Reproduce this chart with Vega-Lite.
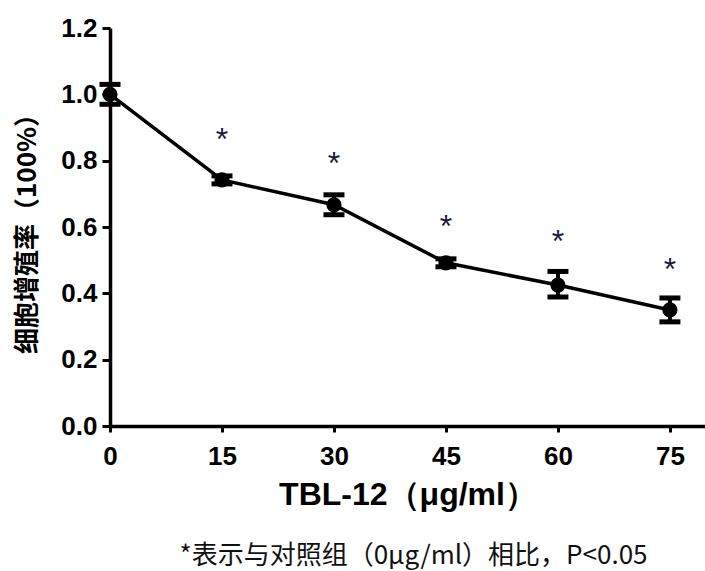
{
  "$schema": "https://vega.github.io/schema/vega-lite/v6.json",
  "width": 595,
  "height": 398,
  "autosize": {"type": "none"},
  "padding": {"left": 110, "top": 28, "right": 0, "bottom": 145},
  "background": "white",
  "config": {"view": {"stroke": null}},
  "title": {
    "text": "*表示与对照组（0μg/ml）相比，P<0.05",
    "orient": "bottom",
    "anchor": "middle",
    "font": "Noto Sans CJK SC",
    "fontSize": 26,
    "fontWeight": "normal",
    "color": "#111111",
    "offset": 33,
    "dx": 6
  },
  "data": {
    "values": [
      {"dose": 0, "mean": 1.0, "lo": 0.97, "hi": 1.03, "star": ""},
      {"dose": 15, "mean": 0.742, "lo": 0.73, "hi": 0.754, "star": "*", "sy": 0.87},
      {"dose": 30, "mean": 0.667, "lo": 0.637, "hi": 0.697, "star": "*", "sy": 0.8},
      {"dose": 45, "mean": 0.492, "lo": 0.48, "hi": 0.504, "star": "*", "sy": 0.61},
      {"dose": 60, "mean": 0.425, "lo": 0.389, "hi": 0.466, "star": "*", "sy": 0.565},
      {"dose": 75, "mean": 0.35, "lo": 0.314, "hi": 0.386, "star": "*", "sy": 0.48}
    ]
  },
  "encoding": {
    "x": {
      "field": "dose",
      "type": "quantitative",
      "scale": {"domain": [0, 79.7], "nice": false},
      "axis": {
        "values": [0, 15, 30, 45, 60, 75],
        "labelFlush": false,
        "title": "TBL-12（μg/ml）",
        "titleFont": "Liberation Sans",
        "titleFontSize": 32,
        "titleFontWeight": "bold",
        "titleColor": "#000000",
        "titlePadding": 10,
        "labelFont": "Liberation Sans",
        "labelFontSize": 26,
        "labelFontWeight": "bold",
        "labelColor": "#000000",
        "labelPadding": 11,
        "domainColor": "#000000",
        "domainWidth": 3.5,
        "tickColor": "#000000",
        "tickWidth": 3,
        "tickSize": 6,
        "grid": false
      }
    }
  },
  "layer": [
    {
      "mark": {"type": "rule", "strokeWidth": 4, "color": "#000000"},
      "encoding": {
        "y": {"field": "lo", "type": "quantitative"},
        "y2": {"field": "hi"}
      }
    },
    {
      "mark": {"type": "tick", "thickness": 5, "size": 21, "color": "#000000", "opacity": 1, "orient": "horizontal"},
      "encoding": {"y": {"field": "lo", "type": "quantitative"}}
    },
    {
      "mark": {"type": "tick", "thickness": 5, "size": 21, "color": "#000000", "opacity": 1, "orient": "horizontal"},
      "encoding": {"y": {"field": "hi", "type": "quantitative"}}
    },
    {
      "mark": {"type": "line", "strokeWidth": 3.5, "color": "#000000"},
      "encoding": {
        "y": {
          "field": "mean",
          "type": "quantitative",
          "scale": {"domain": [0, 1.2], "nice": false},
          "axis": {
            "values": [0, 0.2, 0.4, 0.6, 0.8, 1.0, 1.2],
            "format": ".1f",
            "title": "细胞增殖率（100%）",
            "titleFont": "Noto Sans CJK SC",
            "titleFontSize": 26,
            "titleFontWeight": "bold",
            "titleColor": "#000000",
            "titlePadding": 20,
            "labelFont": "Liberation Sans",
            "labelFontSize": 26,
            "labelFontWeight": "bold",
            "labelColor": "#000000",
            "labelPadding": 5,
            "domainColor": "#000000",
            "domainWidth": 3.5,
            "tickColor": "#000000",
            "tickWidth": 3,
            "tickSize": 8,
            "grid": false
          }
        }
      }
    },
    {
      "mark": {"type": "point", "filled": true, "size": 230, "opacity": 1, "color": "#000000"},
      "encoding": {"y": {"field": "mean", "type": "quantitative"}}
    },
    {
      "mark": {"type": "text", "font": "Liberation Sans", "fontSize": 32, "color": "#1a1a3a", "baseline": "middle", "dy": 3},
      "encoding": {
        "y": {"field": "sy", "type": "quantitative"},
        "text": {"field": "star"}
      }
    }
  ]
}
